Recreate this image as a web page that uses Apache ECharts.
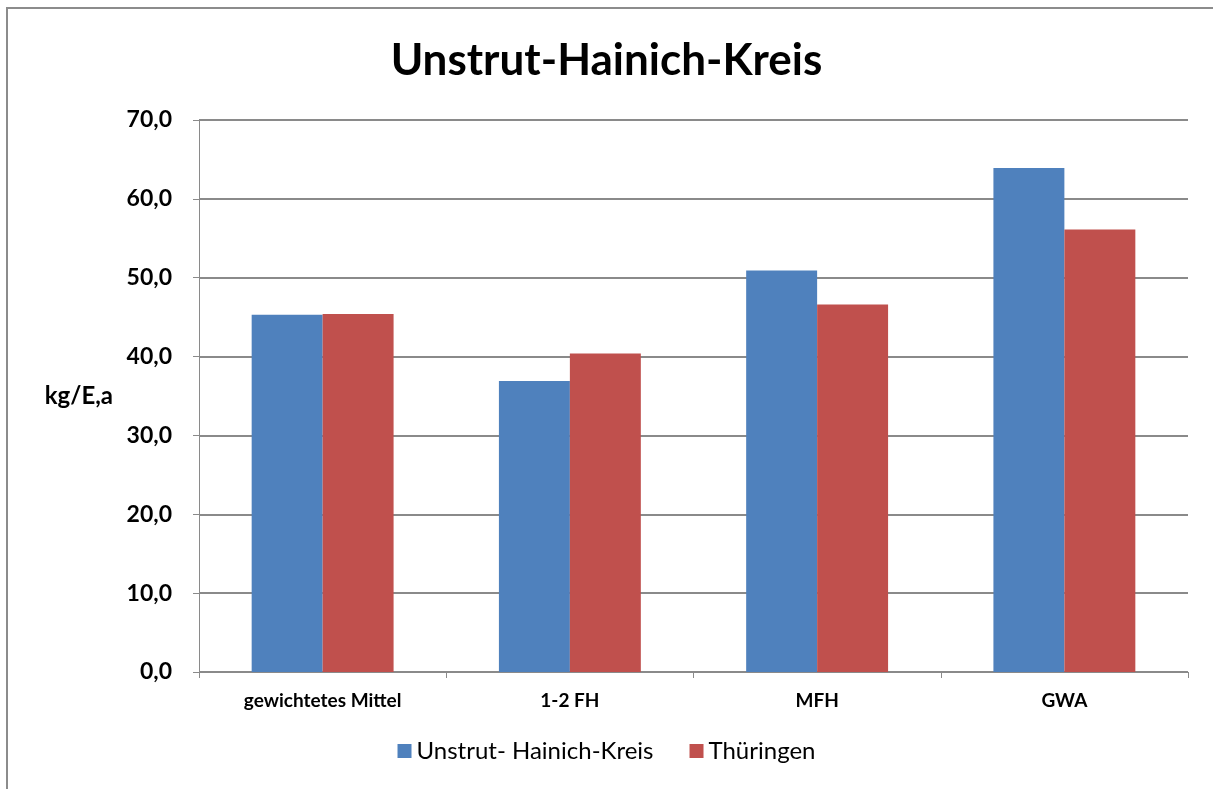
<!DOCTYPE html>
<html>
<head>
<meta charset="utf-8">
<script src="https://cdn.jsdelivr.net/npm/echarts@6/dist/echarts.min.js"></script>
<style>
  html, body { margin: 0; padding: 0; background: #fff; overflow: hidden; }
  #frame { position: absolute; left: 6px; top: 7px; width: 1300px; height: 900px; border-top: 2px solid #8c8c8c; border-left: 2px solid #8c8c8c; }
  #chart { position: absolute; left: 0; top: 0; width: 1213px; height: 789px; }
</style>
</head>
<body>
<div id="frame"></div>
<div id="chart"></div>
<script>
// data
const categories = ['gewichtetes Mittel', '1-2 FH', 'MFH', 'GWA'];
const seriesNames = ['Unstrut- Hainich-Kreis', 'Thüringen'];
const unstrutValues = [45.3, 36.9, 50.9, 63.9];
const thueringenValues = [45.4, 40.4, 46.6, 56.1];
const colors = ['#4F81BD', '#C0504D'];

const font = 'Lato, "Open Sans", sans-serif';
const fmt = v => v.toFixed(1).replace('.', ',');

const chart = echarts.init(document.getElementById('chart'));
chart.setOption({
    animation: false,
    textStyle: { fontFamily: font },
    title: {
        text: 'Unstrut-Hainich-Kreis',
        left: 'center',
        top: 34,
        textStyle: { fontSize: 44, fontWeight: 'bold', color: '#000', fontFamily: font }
    },
    legend: {
        data: seriesNames,
        bottom: 21,
        left: 'center',
        itemWidth: 14,
        itemHeight: 14,
        itemGap: 36,
        icon: 'rect',
        textStyle: { fontSize: 24, color: '#000', fontFamily: font }
    },
    grid: { left: 199, right: 25, top: 120, bottom: 117 },
    xAxis: {
        type: 'category',
        data: categories,
        axisLine: { lineStyle: { color: '#8a8a8a', width: 1 } },
        axisTick: { show: true, length: 6, lineStyle: { color: '#8a8a8a' } },
        axisLabel: { fontSize: 19, fontWeight: 'bold', color: '#000', margin: 19 }
    },
    yAxis: {
        type: 'value',
        min: 0,
        max: 70,
        interval: 10,
        name: 'kg/E,a',
        nameLocation: 'middle',
        nameRotate: 0,
        nameGap: 86,
        nameTextStyle: { fontSize: 24, fontWeight: 'bold', color: '#000', align: 'right' },
        axisLine: { show: true, lineStyle: { color: '#8a8a8a', width: 1 } },
        axisTick: { show: true, length: 6, lineStyle: { color: '#8a8a8a' } },
        axisLabel: { fontSize: 23, fontWeight: 'bold', color: '#000', margin: 27, formatter: fmt },
        splitLine: { lineStyle: { color: '#8a8a8a', width: 2 } }
    },
    series: [
        {
            name: seriesNames[0],
            type: 'bar',
            data: unstrutValues,
            itemStyle: { color: colors[0] },
            barGap: '0%',
            barCategoryGap: '42.6%'
        },
        {
            name: seriesNames[1],
            type: 'bar',
            data: thueringenValues,
            itemStyle: { color: colors[1] },
            barGap: '0%',
            barCategoryGap: '42.6%'
        }
    ]
});
</script>
</body>
</html>
